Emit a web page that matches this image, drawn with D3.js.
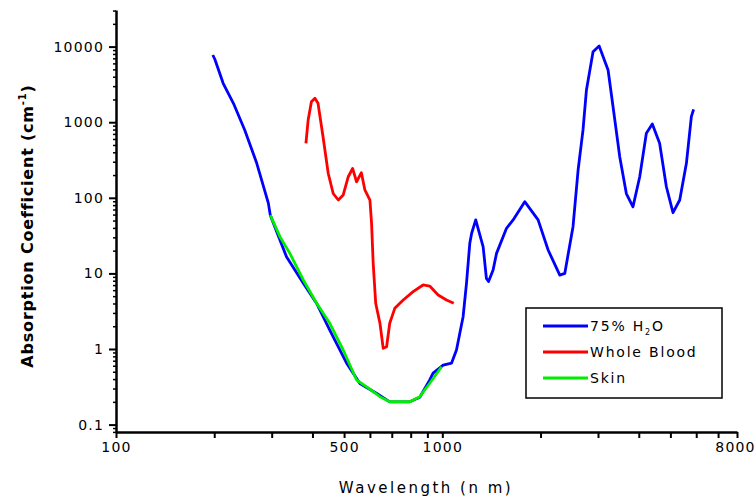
<!DOCTYPE html>
<html>
<head>
<meta charset="utf-8">
<script src="https://cdn.jsdelivr.net/npm/d3@7"></script>
<style>
  body { margin: 0; background: #fff; }
  text { font-family: "DejaVu Sans", Verdana, sans-serif; }
</style>
</head>
<body>
<svg width="756" height="500"></svg>
<script>
// Data (wavelength in nm, absorption in cm^-1)
var waterWl = [198, 201, 213, 229, 248, 270, 293, 297, 333, 375, 412, 452, 509, 559, 628, 690, 795, 853, 915, 937, 1006, 1067, 1105, 1158, 1186, 1214, 1230, 1266, 1290, 1334, 1365, 1386, 1431, 1466, 1573, 1648, 1789, 1966, 2110, 2291, 2373, 2515, 2607, 2699, 2765, 2897, 3024, 3221, 3336, 3497, 3664, 3840, 4027, 4220, 4401, 4634, 4860, 5093, 5340, 5598, 5797, 5890];
var waterAbs = [7740, 6750, 3270, 1780, 790, 286, 85, 59, 16.6, 7.4, 4.0, 1.78, 0.65, 0.35, 0.26, 0.2, 0.2, 0.23, 0.39, 0.48, 0.61, 0.65, 0.97, 2.67, 7.4, 25, 34, 51, 38, 22.5, 8.6, 7.8, 11.1, 18.4, 39.5, 51, 89, 51, 20.4, 9.5, 10, 41.5, 233, 790, 2670, 8570, 10180, 4900, 1600, 350, 114, 76, 190, 713, 947, 526, 140, 63.5, 93.5, 286, 1183, 1482];

var bloodWl = [382, 388, 397, 407, 416, 431, 447, 463, 480, 497, 515, 531, 546, 565, 579, 600, 607, 614, 625, 644, 659, 675, 690, 715, 759, 814, 873, 915, 971, 1030, 1084];
var bloodAbs = [526, 1069, 1866, 2070, 1778, 643, 211, 114, 93.5, 109, 190, 245, 163, 215, 127, 93.5, 46, 13.6, 4.03, 2.19, 1.02, 1.07, 2.19, 3.45, 4.45, 5.73, 7.03, 6.8, 5.18, 4.45, 4.03];

var skinWl = [297, 318, 341, 375, 412, 452, 497, 546, 585, 644, 690, 795, 853, 915, 995];
var skinAbs = [59, 30.6, 18.4, 8.18, 4.03, 2.19, 0.97, 0.389, 0.317, 0.234, 0.201, 0.201, 0.234, 0.352, 0.583];

var xMajor = [100, 200, 300, 400, 500, 600, 700, 800, 900, 1000, 2000, 3000, 4000, 5000, 6000, 7000, 8000];
var xLabels = [100, 500, 1000, 8000];
var yMajor = [0.1, 1, 10, 100, 1000, 10000];
var yLabels = ["0.1", "1", "10", "100", "1000", "10000"];

var seriesNames = ["75% H2O", "Whole Blood", "Skin"];
var seriesColors = ["#0000ff", "#ff0000", "#00ee00"];

var svg = d3.select("svg");

var x = d3.scaleLog().domain([100, 8000]).range([116, 737]);
var y = d3.scaleLog().domain([0.0798, 30500]).range([432, 10]);

// minor y ticks: 2..9 in every decade
var yMinor = [];
[0.01, 0.1, 1, 10, 100, 1000, 10000].forEach(function (d) {
  for (var k = 2; k <= 9; k++) {
    var v = d * k;
    if (v >= 0.0798 && v <= 30500) yMinor.push(v);
  }
});

// y axis minor ticks
svg.append("g")
  .attr("transform", "translate(116,0)")
  .call(d3.axisLeft(y).tickValues(yMinor).tickSize(3).tickFormat(""))
  .call(function (g) { g.select(".domain").remove(); })
  .selectAll("line").attr("stroke-width", 1.5);

// y axis major
var yAxis = svg.append("g")
  .attr("transform", "translate(116,0)")
  .call(d3.axisLeft(y).tickValues(yMajor).tickSize(7).tickSizeOuter(0)
    .tickFormat(function (d, i) { return yLabels[i]; }));
yAxis.select(".domain").attr("stroke-width", 2.5);
yAxis.selectAll("line").attr("stroke-width", 2);
yAxis.selectAll("text").attr("font-size", 14).attr("letter-spacing", 1.2)
  .attr("x", -12).attr("fill", "#000");

// x axis
var xAxis = svg.append("g")
  .attr("transform", "translate(0,432)")
  .call(d3.axisBottom(x).tickValues(xMajor).tickSize(6).tickSizeOuter(0)
    .tickFormat(function (d) { return xLabels.indexOf(d) >= 0 ? d : ""; }));
xAxis.select(".domain").attr("stroke-width", 2.5);
xAxis.selectAll("line").attr("stroke-width", 2);
xAxis.selectAll("text").attr("font-size", 14).attr("letter-spacing", 1.2)
  .attr("y", 10).attr("fill", "#000")
  .attr("dx", function (d) { return d === 8000 ? -2 : 0; });

// axis titles
svg.append("text")
  .attr("x", 426).attr("y", 493)
  .attr("text-anchor", "middle")
  .attr("font-size", 15)
  .attr("letter-spacing", 2.5)
  .text("Wavelength (n m)");

var yt = svg.append("text")
  .attr("transform", "translate(33,226) rotate(-90)")
  .attr("text-anchor", "middle")
  .attr("font-size", 16)
  .attr("letter-spacing", 0.8)
  .attr("font-weight", "bold");
yt.append("tspan").text("Absorption Coefficient (cm");
yt.append("tspan").attr("font-size", 10).attr("dy", -7).text("-1");
yt.append("tspan").attr("dy", 7).text(")");

// lines
var line = d3.line()
  .x(function (d) { return x(d[0]); })
  .y(function (d) { return y(d[1]); });

function pairs(a, b) { return a.map(function (v, i) { return [v, b[i]]; }); }

var series = [pairs(waterWl, waterAbs), pairs(bloodWl, bloodAbs), pairs(skinWl, skinAbs)];

svg.append("g")
  .selectAll("path")
  .data(series)
  .enter()
  .append("path")
  .attr("d", line)
  .attr("fill", "none")
  .attr("stroke", function (d, i) { return seriesColors[i]; })
  .attr("stroke-width", 2.8)
  .attr("stroke-linejoin", "round");

// legend
var lg = svg.append("g").attr("transform", "translate(526,308)");
lg.append("rect")
  .attr("width", 196).attr("height", 90)
  .attr("fill", "#fff").attr("stroke", "#000").attr("stroke-width", 1.5);

seriesNames.forEach(function (name, i) {
  var yy = 18 + i * 26;
  lg.append("line")
    .attr("x1", 17).attr("x2", 62).attr("y1", yy).attr("y2", yy)
    .attr("stroke", seriesColors[i]).attr("stroke-width", 2.8);
  var t = lg.append("text")
    .attr("x", 64).attr("y", yy + 5)
    .attr("font-size", 14)
    .attr("letter-spacing", 1.8);
  if (i === 0) {
    t.append("tspan").text("75% H");
    t.append("tspan").attr("font-size", 8).attr("dy", 4).text("2");
    t.append("tspan").attr("dy", -4).text("O");
  } else {
    t.text(name);
  }
});
</script>
</body>
</html>
